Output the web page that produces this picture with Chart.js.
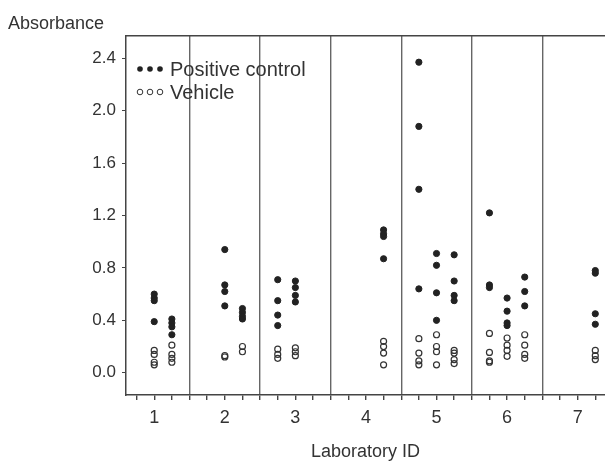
<!DOCTYPE html>
<html lang="en">
<head>
<meta charset="UTF-8">
<title>Absorbance by laboratory</title>
<script src="https://cdn.jsdelivr.net/npm/chart.js"></script>
<style>
  body { margin: 0; background: #fff; }
  #wrap { width: 605px; height: 464px; }
</style>
</head>
<body>
<div id="wrap"><canvas id="absChart" width="605" height="464"></canvas></div>
<script>
// lab ids on the x axis, and the slot (-1, 0, +1) each run sits at inside its lab block
const labIds = [1, 2, 3, 4, 5, 6, 7];
const runSlots = [[0, 1], [0, 1], [-1, 0], [1], [-1, 0, 1], [-1, 0, 1], [1]];

// positive control absorbance, one inner array per run
const posLab1 = [[0.60, 0.57, 0.55, 0.39], [0.41, 0.38, 0.35, 0.29]];
const posLab2 = [[0.94, 0.67, 0.62, 0.51], [0.49, 0.46, 0.43, 0.41]];
const posLab3 = [[0.71, 0.55, 0.44, 0.36], [0.70, 0.65, 0.59, 0.54]];
const posLab4 = [[1.09, 1.06, 1.04, 0.87]];
const posLab5 = [[2.37, 1.88, 1.40, 0.64], [0.91, 0.82, 0.61, 0.40], [0.90, 0.70, 0.59, 0.55]];
const posLab6 = [[1.22, 0.67, 0.65], [0.57, 0.47, 0.38, 0.36], [0.73, 0.62, 0.51]];
const posLab7 = [[0.78, 0.76, 0.45, 0.37]];

// vehicle absorbance, same layout
const vehLab1 = [[0.17, 0.14, 0.08, 0.06], [0.21, 0.14, 0.11, 0.08]];
const vehLab2 = [[0.13, 0.12], [0.20, 0.16]];
const vehLab3 = [[0.18, 0.14, 0.11], [0.19, 0.16, 0.13]];
const vehLab4 = [[0.24, 0.20, 0.15, 0.06]];
const vehLab5 = [[0.26, 0.15, 0.09, 0.06], [0.29, 0.20, 0.16, 0.06], [0.17, 0.15, 0.10, 0.07]];
const vehLab6 = [[0.30, 0.155, 0.09, 0.08], [0.265, 0.21, 0.17, 0.125], [0.29, 0.21, 0.14, 0.11]];
const vehLab7 = [[0.17, 0.13, 0.10]];

const yTickValues = [0.0, 0.4, 0.8, 1.2, 1.6, 2.0, 2.4];

const positive = [posLab1, posLab2, posLab3, posLab4, posLab5, posLab6, posLab7];
const vehicle = [vehLab1, vehLab2, vehLab3, vehLab4, vehLab5, vehLab6, vehLab7];

const xMin = -1.6, xMax = 25.55;
const yMin = -0.17, yMax = 2.57;

const textColor = '#333';
const axisColor = '#444';
const lineColor = '#666';

// each lab takes 4 units on x: centre at 4*(i), runs at centre-1..centre+1, separator at centre+2
function toPoints(groups) {
  const pts = [];
  groups.forEach((runs, i) => {
    runs.forEach((vals, r) => {
      const x = 4 * i + runSlots[i][r];
      vals.forEach(v => pts.push({ x: x, y: v }));
    });
  });
  return pts;
}

const xTickValues = [];
labIds.forEach((id, i) => {
  [-2, -1, 0, 1].forEach(off => {
    const v = 4 * i + off;
    if (v >= xMin && v <= xMax) xTickValues.push(v);
  });
});

Chart.defaults.font.family = '"Liberation Sans", Arial, sans-serif';
Chart.defaults.font.size = 17;
Chart.defaults.color = textColor;

// legend drawn inside the plot, three markers in front of each label
const innerLegend = {
  id: 'innerLegend',
  afterDraw(chart) {
    const ctx = chart.ctx;
    const a = chart.chartArea;
    ctx.save();
    ctx.font = '20px "Liberation Sans", Arial, sans-serif';
    ctx.textBaseline = 'middle';
    chart.data.datasets.forEach((ds, i) => {
      const y = a.top + 33 + i * 23;
      for (let k = 0; k < 3; k++) {
        ctx.beginPath();
        ctx.arc(a.left + 14 + k * 10, y, 2.8, 0, Math.PI * 2);
        if (ds.label === 'Vehicle') {
          ctx.strokeStyle = '#333';
          ctx.lineWidth = 1;
          ctx.stroke();
        } else {
          ctx.fillStyle = '#222';
          ctx.fill();
        }
      }
      ctx.fillStyle = textColor;
      ctx.fillText(ds.label, a.left + 44, y + 1);
    });
    ctx.restore();
  }
};

new Chart(document.getElementById('absChart'), {
  type: 'scatter',
  data: {
    datasets: [
      {
        label: 'Positive control',
        data: toPoints(positive),
        pointRadius: 3.1,
        pointBackgroundColor: '#222',
        pointBorderColor: '#222',
        pointBorderWidth: 1
      },
      {
        label: 'Vehicle',
        data: toPoints(vehicle),
        pointRadius: 3,
        pointBackgroundColor: 'rgba(255,255,255,0)',
        pointBorderColor: '#333',
        pointBorderWidth: 1.2
      }
    ]
  },
  options: {
    responsive: false,
    animation: false,
    layout: { autoPadding: false, padding: { left: 8, right: 0, top: 0, bottom: 0 } },
    plugins: {
      legend: { display: false },
      tooltip: { enabled: false },
      title: {
        display: true,
        text: 'Absorbance',
        align: 'start',
        color: textColor,
        font: { size: 18, weight: 'normal' },
        padding: { top: 13, bottom: 1.4 }
      }
    },
    scales: {
      x: {
        type: 'linear',
        min: xMin,
        max: xMax,
        afterBuildTicks: axis => { axis.ticks = xTickValues.map(v => ({ value: v })); },
        afterFit: axis => { axis.height = 69; },
        ticks: {
          autoSkip: false,
          maxRotation: 0,
          padding: 7,
          color: textColor,
          font: { size: 18 },
          callback: v => (v % 4 === 0 ? String(labIds[v / 4]) : '')
        },
        grid: {
          tickLength: 5,
          tickColor: axisColor,
          lineWidth: 1.4,
          color: c => (c.tick && (c.tick.value + 2) % 4 === 0 ? lineColor : 'rgba(0,0,0,0)')
        },
        border: { color: axisColor, width: 1.5 },
        title: {
          display: true,
          text: 'Laboratory ID',
          color: textColor,
          font: { size: 18 },
          padding: { top: 0, bottom: 1 }
        }
      },
      xTop: {
        type: 'linear',
        position: 'top',
        min: xMin,
        max: xMax,
        ticks: { display: false },
        grid: { display: false, drawTicks: false },
        border: { color: axisColor, width: 1.5 },
        afterFit: axis => { axis.height = 0; }
      },
      y: {
        min: yMin,
        max: yMax,
        afterBuildTicks: axis => { axis.ticks = yTickValues.map(v => ({ value: v })); },
        afterFit: axis => { axis.width = 118; },
        ticks: {
          padding: 6,
          color: textColor,
          callback: v => v.toFixed(1)
        },
        grid: { drawOnChartArea: false, tickLength: 4, tickColor: axisColor },
        border: { color: axisColor, width: 1.5 }
      }
    }
  },
  plugins: [innerLegend]
});
</script>
</body>
</html>
